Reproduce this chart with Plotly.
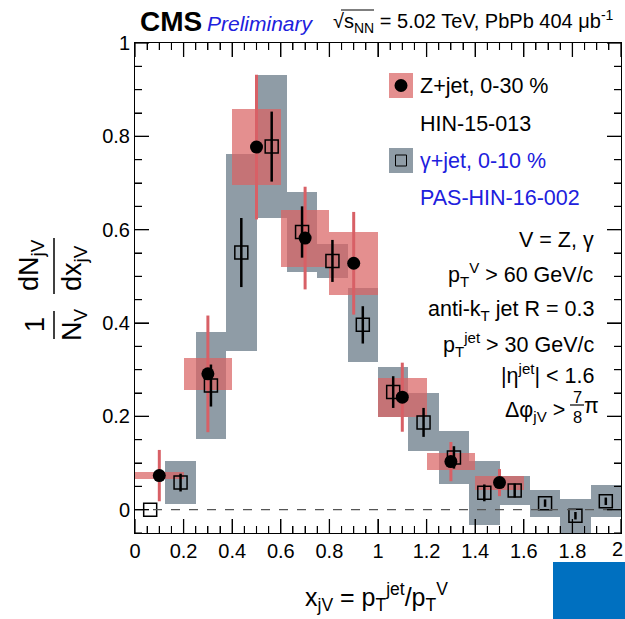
import plotly.graph_objects as go

# ---------------- data ----------------
# Z+jet, 0-30 % (HIN-15-013)
z_x = [0.1, 0.3, 0.5, 0.7, 0.9, 1.1, 1.3, 1.5]
z_y = [0.073, 0.291, 0.777, 0.582, 0.528, 0.241, 0.103, 0.058]
z_stat = [0.055, 0.125, 0.155, 0.110, 0.110, 0.074, 0.042, 0.029]
z_sys = [0.008, 0.035, 0.081, 0.061, 0.068, 0.042, 0.019, 0.015]
z_bin_width = 0.2

# gamma+jet, 0-10 % (PAS-HIN-16-002)
g_x = [0.0625, 0.1875, 0.3125, 0.4375, 0.5625, 0.6875, 0.8125, 0.9375,
       1.0625, 1.1875, 1.3125, 1.4375, 1.5625, 1.6875, 1.8125, 1.9375]
g_y = [0.0, 0.058, 0.266, 0.551, 0.778, 0.595, 0.533, 0.396,
       0.252, 0.187, 0.112, 0.036, 0.041, 0.014, -0.013, 0.018]
g_stat = [0.0, 0.019, 0.045, 0.074, 0.075, 0.055, 0.045, 0.040,
          0.034, 0.031, 0.024, 0.018, 0.015, 0.008, 0.008, 0.008]
g_sys = [0.0, 0.046, 0.114, 0.212, 0.153, 0.085, 0.037, 0.080,
         0.053, 0.062, 0.057, 0.068, 0.032, 0.029, 0.036, 0.034]
g_bin_width = 0.125

x_tickvals = [0, 0.2, 0.4, 0.6, 0.8, 1.0, 1.2, 1.4, 1.6, 1.8, 2.0]
x_ticktext = ["0", "0.2", "0.4", "0.6", "0.8", "1", "1.2", "1.4", "1.6", "1.8", "2"]
y_tickvals = [0, 0.2, 0.4, 0.6, 0.8, 1.0]
y_ticktext = ["0", "0.2", "0.4", "0.6", "0.8", "1"]

# ---------------- style ----------------
W, H = 625, 619
ML, MR, MT, MB = 135, 4, 43, 86
PW, PH = W - ML - MR, H - MT - MB
FONT = "Liberation Sans, Arial, Helvetica, sans-serif"
RED_BOX = "rgba(218,100,100,0.72)"
RED_LINE = "rgb(216,96,102)"
GRAY_BOX = "rgb(143,156,166)"
BLUE = "#2020dd"
TXT = 21.5
MAJ_LEN, MIN_LEN = 14, 7


def px(xp):
    return (xp - ML) / PW


def py(yp):
    return (H - MB - yp) / PH


fig = go.Figure()

# systematic boxes (gamma first, Z on top)
fig.add_trace(go.Bar(
    x=g_x, y=[2 * s for s in g_sys], base=[v - s for v, s in zip(g_y, g_sys)],
    width=g_bin_width, marker=dict(color=GRAY_BOX, line=dict(width=0)),
    showlegend=False, hoverinfo="skip"))
fig.add_trace(go.Bar(
    x=z_x, y=[2 * s for s in z_sys], base=[v - s for v, s in zip(z_y, z_sys)],
    width=z_bin_width, marker=dict(color=RED_BOX, line=dict(width=0)),
    showlegend=False, hoverinfo="skip"))

# Z points with stat errors
fig.add_trace(go.Scatter(
    x=z_x, y=z_y, mode="markers",
    marker=dict(symbol="circle", size=13, color="black"),
    error_y=dict(type="data", array=z_stat, visible=True, color=RED_LINE,
                 thickness=3, width=0),
    showlegend=False))
# gamma points with stat errors
fig.add_trace(go.Scatter(
    x=g_x, y=g_y, mode="markers",
    marker=dict(symbol="square-open", size=13, color="black",
                line=dict(width=1.5, color="black")),
    error_y=dict(type="data", array=g_stat, visible=True, color="black",
                 thickness=2.5, width=0),
    showlegend=False))
# invisible helper trace so the mirrored (top/right) tick axes are drawn
fig.add_trace(go.Scatter(
    x=x_tickvals[:1], y=y_tickvals[:1], xaxis="x2", yaxis="y2", mode="markers",
    marker=dict(opacity=0), showlegend=False, hoverinfo="skip"))

shapes = []
# dashed zero line
shapes.append(dict(type="line", xref="x", yref="y", x0=0, x1=2, y0=0, y1=0,
                   line=dict(color="#555555", width=1.2, dash="dash"), layer="above"))

# ROOT-style inside ticks on all four sides (major from the tick arrays, 3 minors between)
x_minor = [a + (b - a) * k / 4 for a, b in zip(x_tickvals[:-1], x_tickvals[1:]) for k in (1, 2, 3)]
y_minor = [a + (b - a) * k / 4 for a, b in zip(y_tickvals[:-1], y_tickvals[1:]) for k in (1, 2, 3)]
y_minor = [y_tickvals[0] - (y_tickvals[1] - y_tickvals[0]) / 4] + y_minor
for vals, ln, wd in ((x_tickvals, MAJ_LEN, 1.3), (x_minor, MIN_LEN, 1.1)):
    for v in vals:
        shapes.append(dict(type="line", xref="x", yref="paper", x0=v, x1=v,
                           y0=0, y1=ln / PH, line=dict(color="black", width=wd), layer="above"))
        shapes.append(dict(type="line", xref="x", yref="paper", x0=v, x1=v,
                           y0=1, y1=1 - ln / PH, line=dict(color="black", width=wd), layer="above"))
for vals, ln, wd in ((y_tickvals, MAJ_LEN, 1.3), (y_minor, MIN_LEN, 1.1)):
    for v in vals:
        shapes.append(dict(type="line", xref="paper", yref="y", x0=0, x1=ln / PW,
                           y0=v, y1=v, line=dict(color="black", width=wd), layer="above"))
        shapes.append(dict(type="line", xref="paper", yref="y", x0=1, x1=1 - ln / PW,
                           y0=v, y1=v, line=dict(color="black", width=wd), layer="above"))

# legend symbols
shapes.append(dict(type="rect", xref="paper", yref="paper",
                   x0=px(389), x1=px(413), y0=py(98), y1=py(73),
                   fillcolor=RED_BOX, line=dict(width=0)))
shapes.append(dict(type="circle", xref="paper", yref="paper",
                   x0=px(394.5), x1=px(407.5), y0=py(92), y1=py(79),
                   fillcolor="black", line=dict(width=0)))
shapes.append(dict(type="rect", xref="paper", yref="paper",
                   x0=px(389), x1=px(413), y0=py(173), y1=py(148),
                   fillcolor=GRAY_BOX, line=dict(width=0)))
shapes.append(dict(type="rect", xref="paper", yref="paper",
                   x0=px(395.5), x1=px(406.5), y0=py(166), y1=py(155),
                   fillcolor="rgba(0,0,0,0)", line=dict(width=1, color="black")))

# y-title fraction bars
shapes.append(dict(type="line", xref="paper", yref="paper",
                   x0=px(54), x1=px(54), y0=py(238), y1=py(294),
                   line=dict(color="black", width=1.5)))
shapes.append(dict(type="line", xref="paper", yref="paper",
                   x0=px(54), x1=px(54), y0=py(311), y1=py(339),
                   line=dict(color="black", width=1.5)))
# 7/8 fraction bar
shapes.append(dict(type="line", xref="paper", yref="paper",
                   x0=px(570), x1=px(584), y0=py(405), y1=py(405),
                   line=dict(color="black", width=1.2)))
# sqrt overline
shapes.append(dict(type="line", xref="paper", yref="paper",
                   x0=px(341), x1=px(374), y0=py(10), y1=py(10),
                   line=dict(color="black", width=1.2)))
# blue block bottom right
shapes.append(dict(type="rect", xref="paper", yref="paper",
                   x0=px(553), x1=px(625), y0=py(619), y1=py(562),
                   fillcolor="#0070c0", line=dict(width=0)))

ann = []


def text(xp, yp, s, size=TXT, color="black", xanchor="left", angle=0, family=FONT):
    ann.append(dict(x=px(xp), y=py(yp), xref="paper", yref="paper", text=s,
                    showarrow=False, xanchor=xanchor, yanchor="middle",
                    textangle=angle, font=dict(size=size, color=color, family=family)))


# header
text(138, 22, "<b>CMS</b>", size=28)
text(205, 24, "<i>Preliminary</i>", size=21, color=BLUE)
text(616, 22, "√s<sub>NN</sub> = 5.02 TeV, PbPb 404 μb<sup>-1</sup>", size=20, xanchor="right")

# legend text
text(418, 86, "Z+jet, 0-30 %")
text(418, 124, "HIN-15-013")
text(418, 161, "γ+jet, 0-10 %", color=BLUE)
text(418, 198, "PAS-HIN-16-002", color=BLUE)

# selection annotations
RX = 596
text(RX, 240, "V = Z, γ", xanchor="right")
text(RX, 274, "p<sub>T</sub><sup>V</sup> > 60 GeV/c", xanchor="right")
text(RX, 310, "anti-k<sub>T</sub> jet R = 0.3", xanchor="right")
text(RX, 344, "p<sub>T</sub><sup>jet</sup> > 30 GeV/c", xanchor="right")
text(RX, 374, "|η<sup>jet</sup>| < 1.6", xanchor="right")
text(567, 411, "Δφ<sub>jV</sub> >", xanchor="right")
text(577, 397, "7", size=16.5, xanchor="center")
text(577, 417, "8", size=16.5, xanchor="center")
text(591, 406, "π", xanchor="center")

# y title as fraction
text(31, 265, "dN<sub>jV</sub>", size=27, xanchor="center", angle=-90)
text(74, 268, "dx<sub>jV</sub>", size=27, xanchor="center", angle=-90)
text(35, 325, "1", size=27, xanchor="center", angle=-90)
text(74, 325, "N<sub>V</sub>", size=27, xanchor="center", angle=-90)

# x title
text(376, 597, "x<sub>jV</sub> = p<sub>T</sub><sup>jet</sup>/p<sub>T</sub><sup>V</sup>",
     size=25, xanchor="center")

# last x tick label, kept inside the page (partly at the edge as in the reference)
ann.append(dict(x=px(625), y=py(549), xref="paper", yref="paper", text=x_ticktext[-1],
                showarrow=False, xanchor="right", yanchor="middle",
                font=dict(size=20, color="black", family=FONT)))

tick_common = dict(ticks="inside", ticklen=MAJ_LEN, tickwidth=1.3, tickcolor="black",
                   showgrid=False, zeroline=False,
                   tickfont=dict(family=FONT, size=20, color="black"))
minor = dict(ticks="inside", ticklen=MIN_LEN, tickwidth=1.1, tickcolor="black", dtick=0.05,
             tick0=0, showgrid=False)
XR = [0, 2]
YR = [-0.05, 1.0]

fig.update_layout(
    width=W, height=H,
    margin=dict(l=ML, r=MR, t=MT, b=MB),
    paper_bgcolor="white", plot_bgcolor="white",
    barmode="overlay", bargap=0,
    shapes=shapes, annotations=ann,
    xaxis=dict(range=XR, tickvals=x_tickvals[:-1], ticktext=x_ticktext[:-1], minor=minor,
               showline=True, linecolor="black", linewidth=1, mirror="allticks",
               layer="above traces", **tick_common),
    yaxis=dict(range=YR, tickvals=y_tickvals, ticktext=y_ticktext, minor=minor,
               showline=True, linecolor="black", linewidth=1, mirror="allticks",
               layer="above traces", **tick_common),
    xaxis2=dict(range=XR, tickvals=x_tickvals, minor=minor, overlaying="x",
                side="top", anchor="y2", showticklabels=False, showline=False,
                layer="above traces", **tick_common),
    yaxis2=dict(range=YR, tickvals=y_tickvals, minor=minor, overlaying="y",
                side="right", anchor="x2", showticklabels=False, showline=False,
                layer="above traces", **tick_common),
    showlegend=False,
)

fig.write_html("out.html")
